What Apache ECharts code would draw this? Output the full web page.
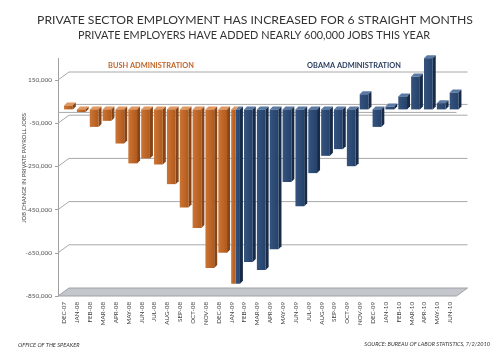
<!DOCTYPE html>
<html><head><meta charset="utf-8">
<script src="https://cdn.jsdelivr.net/npm/echarts@6/dist/echarts.min.js"></script>
<style>html,body{margin:0;padding:0;background:#fff}#c{width:500px;height:356px}</style>
</head><body><div id="c"></div>
<script>
const categories = ['DEC-07','JAN-08','FEB-08','MAR-08','APR-08','MAY-08','JUN-08','JUL-08','AUG-08','SEP-08','OCT-08','NOV-08','DEC-08','JAN-09','FEB-09','MAR-09','APR-09','MAY-09','JUN-09','JUL-09','AUG-09','SEP-09','OCT-09','NOV-09','DEC-09','JAN-10','FEB-10','MAR-10','APR-10','MAY-10','JUN-10'];
const bushValues = [18000,-12000,-81000,-53000,-158000,-250000,-227000,-255000,-346000,-454000,-549000,-734000,-664000,-807000];
const obamaValues = [-807000,-706000,-744000,-647000,-336000,-448000,-295000,-215000,-184000,-263000,70000,-81000,13000,60000,152000,237000,29000,78000];
const yTicks = [-850000,-650000,-450000,-250000,-50000,150000];
const yMin = -850000, yMax = 250000;
const bushStart = 0;
const obamaStart = categories.indexOf('JAN-09');

const OX = 4, OY = -3, D = 3;      // bar placement in depth
const BX = 11, BY = -8;            // back wall offset

function barRenderer(frontA, frontB, sideCol, topCol, part) {
  return function (params, api) {
    const idx = api.value(0), v = api.value(1);
    const p0 = api.coord([idx, 0]);
    const p1 = api.coord([idx, v]);
    const band = api.size([1, 0])[0];
    const w = band * 0.68;
    let xL = p0[0] - w / 2 + OX, xR = xL + w;
    const shared = idx >= obamaStart && idx < bushStart + bushValues.length;
    if (shared) { if (part === 'left') xR = xL + w / 2; else xL = xL + w / 2; }
    const yT = Math.min(p0[1], p1[1]) + OY, yB = Math.max(p0[1], p1[1]) + OY;
    const children = [];
    children.push({type: 'polygon', shape: {points: [[xL, yT], [xL + D, yT - D], [xR + D, yT - D], [xR, yT]]}, style: {fill: topCol}});
    if (!(shared && part === 'left')) {
      children.push({type: 'polygon', shape: {points: [[xR, yT], [xR + D, yT - D], [xR + D, yB - D], [xR, yB]]}, style: {fill: sideCol}});
    }
    children.push({type: 'rect', shape: {x: xL, y: yT, width: xR - xL, height: yB - yT},
      style: {fill: new echarts.graphic.LinearGradient(0, 0, 1, 0, [{offset: 0, color: frontA}, {offset: 1, color: frontB}])}});
    return {type: 'group', children: children};
  };
}

function decorRender(params, api) {
  const cs = params.coordSys;
  const v = api.value(1);
  const y = api.coord([0, v])[1];
  const x0 = cs.x, x1 = cs.x + cs.width;
  const ls = {stroke: '#a8a8a8', lineWidth: 1, fill: null};
  if (params.dataIndex >= yTicks.length) {
    return {type: 'group', children: [
      {type: 'line', shape: {x1: x0, y1: y, x2: x1, y2: y}, style: ls},
      {type: 'line', shape: {x1: x0 + BX, y1: y + BY, x2: x1 + BX, y2: y + BY}, style: ls}
    ]};
  }
  if (v === yMin) {
    return {type: 'polygon', shape: {points: [[x0, y], [x0 + BX, y + BY], [x1 + BX, y + BY], [x1, y]]},
      style: {fill: '#c4c8cd', stroke: '#9ea2a7', lineWidth: 1}};
  }
  return {type: 'polyline', shape: {points: [[x0, y], [x0 + BX, y + BY], [x1 + BX, y + BY]]}, style: ls};
}

const chart = echarts.init(document.getElementById('c'), null, {renderer: 'canvas'});
const FONT = 'Lato';
chart.setOption({
  animation: false,
  backgroundColor: '#fff',
  textStyle: {fontFamily: FONT},
  graphic: [
    {type: 'text', x: 255, y: 20,
     style: {text: 'PRIVATE SECTOR EMPLOYMENT HAS INCREASED FOR 6 STRAIGHT MONTHS', align: 'center', verticalAlign: 'middle', font: '12.2px Lato', fill: '#333'}},
    {type: 'text', x: 254, y: 35,
     style: {text: 'PRIVATE EMPLOYERS HAVE ADDED NEARLY 600,000 JOBS THIS YEAR', align: 'center', verticalAlign: 'middle', font: '10.9px Lato', fill: '#333'}},
    {type: 'text', x: 24, y: 168, rotation: Math.PI / 2,
     style: {text: 'JOB CHANGE IN PRIVATE PAYROLL JOBS', align: 'center', verticalAlign: 'middle', font: '5.8px Lato', fill: '#444'}},
    {type: 'text', x: 151, y: 66,
     style: {text: 'BUSH ADMINISTRATION', align: 'center', verticalAlign: 'middle', font: 'bold 7.4px Lato', fill: '#c0652a'}},
    {type: 'text', x: 354, y: 66,
     style: {text: 'OBAMA ADMINISTRATION', align: 'center', verticalAlign: 'middle', font: 'bold 7.4px Lato', fill: '#2a3f5f'}},
    {type: 'text', x: 18, y: 345,
     style: {text: 'OFFICE OF THE SPEAKER', align: 'left', verticalAlign: 'middle', font: 'italic 5.6px Lato', fill: '#333'}},
    {type: 'text', x: 490, y: 344,
     style: {text: 'SOURCE: BUREAU OF LABOR STATISTICS, 7/2/2010', align: 'right', verticalAlign: 'middle', font: 'italic 5.6px Lato', fill: '#333'}}
  ],
  grid: {left: 58, right: 43.5, top: 58.4, bottom: 60},
  xAxis: {
    type: 'category', data: categories,
    axisLine: {show: false}, axisTick: {show: false}, splitLine: {show: false},
    axisLabel: {rotate: 90, interval: 0, fontSize: 6.2, color: '#444', margin: 6, fontFamily: FONT}
  },
  yAxis: {
    type: 'value', min: yMin, max: yMax,
    splitLine: {show: false},
    axisLine: {show: true, lineStyle: {color: '#a0a0a0'}},
    axisTick: {show: true, length: 3, customValues: yTicks, lineStyle: {color: '#a0a0a0'}},
    axisLabel: {customValues: yTicks, fontSize: 6.5, color: '#555', margin: 6, fontFamily: FONT}
  },
  series: [
    {type: 'custom', name: 'frame', z: 1, silent: true,
     data: yTicks.map(v => [0, v]).concat([[0, 0]]),
     encode: {x: 0, y: 1}, renderItem: decorRender},
    {type: 'custom', name: 'Bush', z: 3, silent: true,
     data: bushValues.map((v, i) => [bushStart + i, v]),
     encode: {x: 0, y: 1},
     renderItem: barRenderer('#cc7434', '#b05a1d', '#874416', '#e09860', 'left')},
    {type: 'custom', name: 'Obama', z: 2, silent: true,
     data: obamaValues.map((v, i) => [obamaStart + i, v]),
     encode: {x: 0, y: 1},
     renderItem: barRenderer('#34537e', '#25426a', '#172b48', '#5a7aa5', 'right')}
  ]
});
</script>
</body></html>
